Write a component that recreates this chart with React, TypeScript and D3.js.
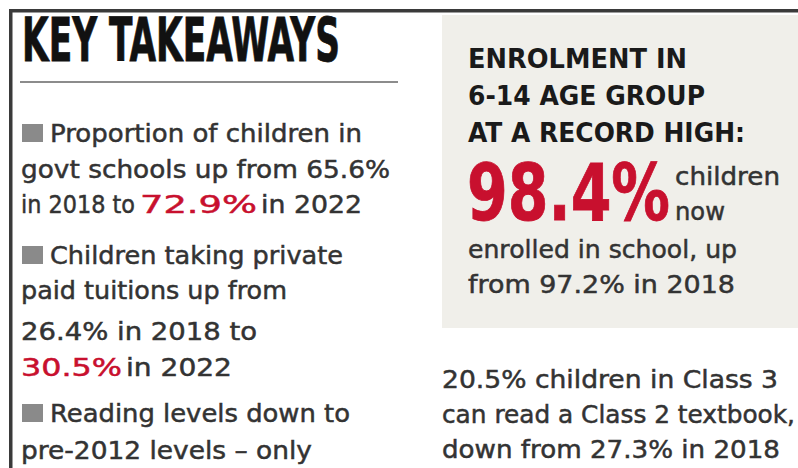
import React, { useEffect, useRef } from "react";
import * as d3 from "d3";

const W = 798;
const H = 468;

const title = "KEY TAKEAWAYS";

// Left column lines: segments [text, isRed]
const leftLines: [string, boolean][][] = [
  [["Proportion of children in", false]],
  [["govt schools up from 65.6%", false]],
  [["in 2018 to", false], ["72.9%", true], ["in 2022", false]],
  [["Children taking private", false]],
  [["paid tuitions up from", false]],
  [["26.4% in 2018 to", false]],
  [["30.5%", true], ["in 2022", false]],
  [["Reading levels down to", false]],
  [["pre-2012 levels – only", false]],
];
const leftBullets = [true, false, false, true, false, false, false, true, false];
// layout: baselines and segment extents
const leftBaselines = [142, 178, 213, 264, 299, 340, 376, 422, 459];
const leftExtents: [number, number][][] = [
  [[50, 362]],
  [[21, 390]],
  [[21, 135], [140, 257], [261, 362]],
  [[50, 343]],
  [[21, 287]],
  [[21, 257]],
  [[21, 122], [126, 232]],
  [[50, 350]],
  [[21, 312]],
];

const boxHeading = ["ENROLMENT IN", "6-14 AGE GROUP", "AT A RECORD HIGH:"];
const boxHeadingBaselines = [68, 105, 142];
const boxHeadingEnds = [687, 705, 745];

const bigValue = "98.4%";
const bigSide = ["children", "now"];
const boxBody = ["enrolled in school, up", "from 97.2% in 2018"];
const boxBodyBaselines = [258, 293];
const boxBodyEnds = [737, 735];

const bottomLines = [
  "20.5% children in Class 3",
  "can read a Class 2 textbook,",
  "down from 27.3% in 2018",
];
const bottomBaselines = [388, 423, 458];
const bottomEnds = [778, 795, 780];

const DARK = "#333333";
const RED = "#c8102e";
const BODY_FONT = "'DejaVu Sans', Verdana, sans-serif";
const HEAD_FONT = "'DejaVu Sans', Verdana, sans-serif";
const COND_FONT = "'DejaVu Sans Condensed', 'Liberation Sans Narrow', 'Liberation Sans', sans-serif";

export default function App() {
  const ref = useRef<SVGSVGElement | null>(null);

  useEffect(() => {
    const svg = d3.select(ref.current);
    svg.selectAll("*").remove();

    svg.append("rect").attr("x", 0).attr("y", 0).attr("width", W).attr("height", H).attr("fill", "#ffffff");

    // shaded box
    svg.append("rect").attr("x", 442).attr("y", 15).attr("width", W - 442).attr("height", 313).attr("fill", "#f0efea");

    // frame lines
    svg.append("rect").attr("x", 9).attr("y", 9).attr("width", W - 9).attr("height", 3.5).attr("fill", "#3a3a3a");
    svg.append("rect").attr("x", 9).attr("y", 9).attr("width", 3.5).attr("height", H - 9).attr("fill", "#3a3a3a");

    // title
    svg.append("text")
      .attr("x", 22).attr("y", 61)
      .attr("font-family", COND_FONT)
      .attr("font-weight", "bold")
      .attr("font-size", 60)
      .attr("fill", "#111")
      .attr("stroke", "#111").attr("stroke-width", 0.8)
      .attr("textLength", 318)
      .attr("lengthAdjust", "spacingAndGlyphs")
      .text(title);

    svg.append("line").attr("x1", 20).attr("x2", 398).attr("y1", 82).attr("y2", 82)
      .attr("stroke", "#8c8c8c").attr("stroke-width", 2);

    // left lines
    leftLines.forEach((segs, i) => {
      const base = leftBaselines[i];
      if (leftBullets[i]) {
        svg.append("rect").attr("x", 22).attr("y", base - 18).attr("width", 21).attr("height", 18).attr("fill", "#8a8a8a");
      }
      segs.forEach(([t, red], j) => {
        const [x0, x1] = leftExtents[i][j];
        const c = red ? RED : DARK;
        svg.append("text")
          .attr("x", x0).attr("y", base)
          .attr("font-family", BODY_FONT)
          .attr("font-size", 25)
          .attr("fill", c)
          .attr("stroke", c).attr("stroke-width", 0.5)
          .attr("textLength", x1 - x0)
          .attr("lengthAdjust", "spacingAndGlyphs")
          .text(t);
      });
    });

    // box heading
    boxHeading.forEach((t, i) => {
      svg.append("text")
        .attr("x", 468).attr("y", boxHeadingBaselines[i])
        .attr("font-family", HEAD_FONT)
        .attr("font-weight", "bold")
        .attr("font-size", 26)
        .attr("fill", "#1a1a1a")
        .attr("textLength", boxHeadingEnds[i] - 468)
        .attr("lengthAdjust", "spacingAndGlyphs")
        .text(t);
    });

    // big value
    svg.append("text")
      .attr("x", 467).attr("y", 220)
      .attr("font-family", COND_FONT)
      .attr("font-weight", "bold")
      .attr("font-size", 78)
      .attr("fill", RED)
      .attr("stroke", RED).attr("stroke-width", 0.8)
      .attr("textLength", 203)
      .attr("lengthAdjust", "spacingAndGlyphs")
      .text(bigValue);

    const bodyText = (t: string, x: number, y: number, len: number) =>
      svg.append("text")
        .attr("x", x).attr("y", y)
        .attr("font-family", BODY_FONT).attr("font-size", 25)
        .attr("fill", DARK).attr("stroke", DARK).attr("stroke-width", 0.5)
        .attr("textLength", len).attr("lengthAdjust", "spacingAndGlyphs")
        .text(t);

    bodyText(bigSide[0], 675, 185, 105);
    bodyText(bigSide[1], 675, 220, 50);

    boxBody.forEach((t, i) => bodyText(t, 468, boxBodyBaselines[i], boxBodyEnds[i] - 468));
    bottomLines.forEach((t, i) => bodyText(t, 442, bottomBaselines[i], bottomEnds[i] - 442));
  }, []);

  return (
    <svg
      ref={ref}
      width={W}
      height={H}
      style={{ position: "absolute", left: 0, top: 0, display: "block" }}
    />
  );
}
